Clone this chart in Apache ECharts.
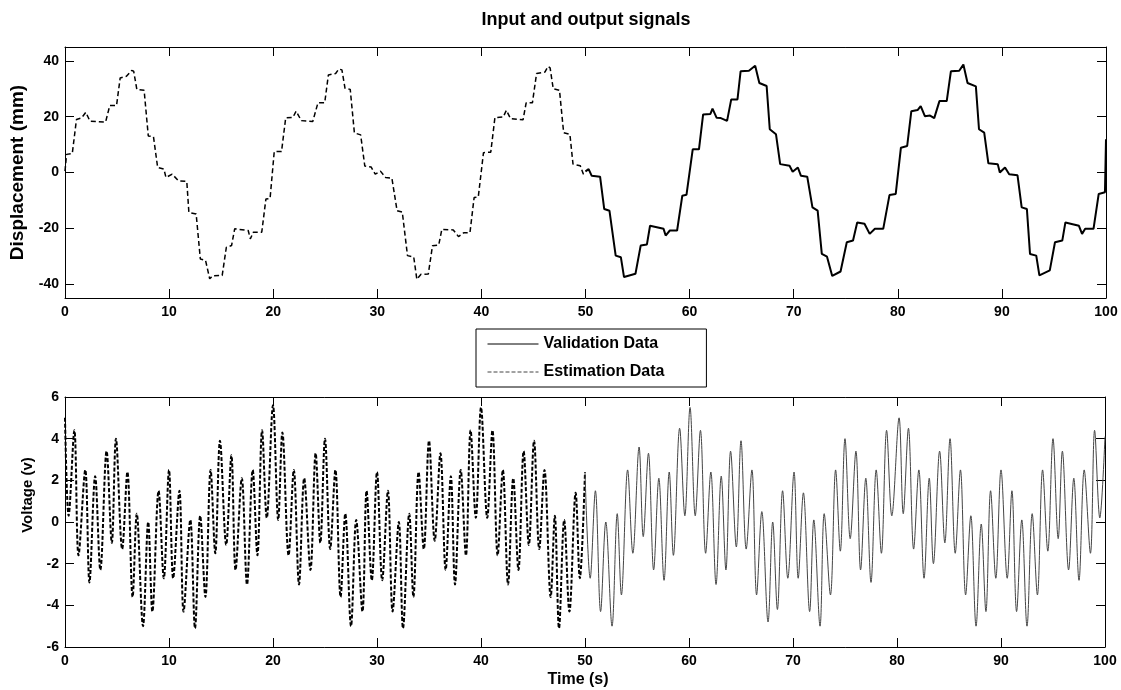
<!DOCTYPE html>
<html>
<head>
<meta charset="utf-8">
<script src="https://cdn.jsdelivr.net/npm/echarts@6/dist/echarts.min.js"></script>
<style>
html,body{margin:0;padding:0;background:#fff;}
#chart{width:1121px;height:690px;}
</style>
</head>
<body>
<div id="chart"></div>
<script>
// ---- Displacement (top panel) breakpoints, time in s, value in mm ----
const dispEstTime = [0.0,0.15,0.7,1.1,1.6,2.0,2.4,3.9,4.3,4.95,5.3,5.9,6.4,6.6,6.9,7.6,8.0,8.5,8.9,9.5,9.7,10.3,10.9,11.7,11.9,12.6,13.0,13.5,13.9,14.2,15.1,15.5,16.0,16.3,17.6,17.8,18.1,18.9,19.3,19.7,
  20.1,20.8,21.2,21.9,22.2,22.7,23.8,24.3,24.95,25.3,26.0,26.3,26.6,26.9,27.4,27.8,28.4,28.8,29.4,29.8,30.3,30.8,31.4,31.9,32.4,32.9,33.5,33.8,34.2,34.9,35.3,35.9,36.2,37.3,37.8,38.3,38.9,39.3,39.7,
  40.2,40.9,41.3,42.1,42.4,42.8,44.0,44.3,44.9,45.3,46.1,46.4,46.6,46.9,47.5,47.9,48.5,48.8,49.5,49.8,50.0];
const dispEstValue = [0.5,6.5,6.8,19,19.6,21.6,18.4,18.1,24,24,33.9,34.5,36.6,36.3,29.8,29.5,13.1,12.8,1.8,1.2,-1.8,-0.6,-3,-3.2,-14.3,-14.9,-31,-31.5,-38.1,-37,-36.9,-26.8,-26.2,-20.2,-20.8,-23.8,-21.4,-21.4,-9.5,-9.3,
  7.5,7.5,19.6,19.8,22,18.6,18.3,25,25,35,35.5,37.1,36.8,30.2,29.8,14.2,13.5,2.3,2,-0.6,0.5,-1.8,-2,-13.7,-14.2,-29.8,-30.3,-38.3,-36.5,-36.4,-26.3,-26,-20.4,-20.6,-23,-21.6,-21.6,-9,-8.8,
  7.1,7.3,19.7,19.9,22.3,19.3,18.9,25,25,35.5,36,38,37.5,30,29.5,14.3,13.7,3,2.4,-0.6,0.4];
const dispValTime = [50.0,50.3,50.6,51.4,51.8,52.3,52.9,53.4,53.7,54.8,55.3,55.9,56.2,57.5,57.7,58.1,58.8,59.3,59.7,
  60.3,60.9,61.3,62.0,62.2,62.6,63.0,63.6,64.0,64.6,64.9,65.7,66.3,66.7,67.4,67.7,68.3,68.7,69.6,69.9,70.4,70.7,71.3,71.8,72.3,72.7,73.2,73.7,74.5,75.1,75.7,76.1,76.8,77.3,77.8,78.6,79.2,79.8,
  80.3,80.9,81.3,81.9,82.2,82.6,83.1,83.5,84.0,84.7,85.1,85.9,86.3,86.7,87.5,87.8,88.3,88.7,89.6,89.8,90.3,90.7,91.5,91.9,92.4,92.7,93.3,93.6,94.6,95.1,95.8,96.1,97.4,97.7,98.0,98.8,99.3,99.9,100.0];
const dispValValue = [0.4,1.2,-1.2,-1.5,-13.1,-13.7,-29.8,-30.4,-37.5,-36.3,-26.2,-25.8,-19.1,-20.2,-22.6,-20.8,-20.8,-8.3,-8,
  8.3,8.3,20.8,21,22.9,19.6,19.5,18.5,26.2,26.2,36.3,36.5,38.3,32.1,31,15.5,13.7,3,2.4,0.3,1.8,-1.2,-1.5,-12.5,-13.7,-29.2,-30.2,-37.1,-35.5,-25,-24.4,-17.9,-18.4,-22,-20.2,-20.2,-8.1,-7.7,
  8.9,9.5,22,22.4,23.8,20.2,20.4,19.5,25.6,25.6,36.3,36.5,38.7,32.1,30.9,15.5,14.3,3.3,3,0,1.8,-0.6,-1,-12.5,-13.1,-29.2,-29.8,-36.9,-35.1,-25,-24.4,-17.9,-19.1,-22,-20.2,-20.2,-7.7,-7.1,11.9];

// ---- Voltage (bottom panel) peaks and troughs, time in s, value in V ----
const voltEstTime = [0.0,0.35,0.9,1.3,1.95,2.35,2.9,3.4,4.0,4.5,4.9,5.5,6.0,6.5,6.9,7.5,8.0,8.4,9.0,9.5,10.0,10.4,11.0,11.4,12.05,12.5,13.0,13.5,14.0,14.45,14.9,15.5,16.0,16.4,17.0,17.5,18.05,18.5,18.95,19.4,
  20.0,20.5,20.9,21.5,22.0,22.5,23.0,23.6,24.1,24.55,25.0,25.5,26.0,26.5,26.95,27.5,28.0,28.6,29.0,29.5,30.0,30.5,31.05,31.5,32.1,32.5,33.1,33.5,34.0,34.5,35.0,35.55,36.1,36.6,37.1,37.5,38.05,38.55,39.0,39.5,
  40.0,40.6,41.1,41.6,42.1,42.6,43.1,43.6,44.1,44.6,45.1,45.6,46.1,46.7,47.1,47.5,48.0,48.5,49.1,49.5,50.0];
const voltEstValue = [5.0,0.3,4.4,-1.6,2.5,-2.9,2.2,-2.3,3.4,-1.0,4.0,-1.3,2.4,-3.6,0.4,-5.0,0.0,-4.3,1.5,-2.7,2.5,-2.7,1.5,-4.3,0.1,-5.1,0.3,-3.6,2.5,-1.5,3.9,-1.1,3.2,-2.3,2.1,-3.0,2.5,-1.6,4.4,0.2,
  5.6,0.1,4.3,-1.6,2.5,-3.0,2.1,-2.3,3.3,-1.0,4.0,-1.3,2.5,-3.6,0.4,-5.0,0.1,-4.3,1.5,-2.8,2.4,-2.8,1.5,-4.3,0.0,-5.1,0.4,-3.6,2.4,-1.3,3.9,-0.9,3.3,-2.3,2.2,-3.0,2.5,-1.6,4.4,0.2,
  5.5,0.2,4.4,-1.6,2.5,-3.0,2.1,-2.3,3.4,-1.1,3.9,-1.3,2.5,-3.6,0.3,-5.1,0.1,-4.3,1.4,-2.7,2.4];
const voltValTime = [50.0,50.5,51.0,51.5,52.0,52.6,53.1,53.5,54.1,54.6,55.2,55.6,56.1,56.6,57.1,57.6,58.1,58.5,59.1,59.6,
  60.1,60.6,61.1,61.6,62.1,62.6,63.1,63.55,64.0,64.55,65.0,65.5,66.05,66.5,67.0,67.6,68.05,68.5,69.0,69.5,70.1,70.5,71.0,71.6,72.0,72.6,73.0,73.6,74.1,74.55,
  75.0,75.5,76.05,76.5,77.0,77.5,78.0,78.5,79.0,79.5,80.2,80.6,81.1,81.6,82.1,82.6,83.1,83.5,84.1,84.6,85.1,85.6,86.1,86.6,87.1,87.6,88.1,88.55,89.0,89.5,
  90.0,90.6,91.05,91.5,92.0,92.5,93.0,93.5,94.0,94.5,95.0,95.5,95.9,96.5,97.0,97.5,98.0,98.6,99.0,99.5,100.0];
const voltValValue = [2.4,-2.7,1.5,-4.3,0.0,-5.0,0.4,-3.5,2.5,-1.5,3.6,-0.7,3.3,-2.3,2.1,-2.8,2.4,-1.6,4.5,0.3,
  5.5,0.3,4.4,-1.5,2.4,-3.0,2.2,-2.3,3.4,-1.2,3.9,-1.3,2.5,-3.5,0.5,-4.8,0.0,-4.2,1.5,-2.7,2.4,-2.7,1.4,-4.3,0.1,-5.0,0.4,-3.5,2.5,-1.4,
  4.0,-0.8,3.4,-2.3,2.1,-2.9,2.5,-1.5,4.4,0.3,5.0,0.4,4.5,-1.3,2.5,-2.7,2.1,-2.0,3.4,-1.0,4.0,-1.5,2.5,-3.5,0.3,-5.0,-0.1,-4.3,1.5,-2.7,
  2.5,-2.7,1.5,-4.3,0.1,-5.0,0.4,-3.5,2.5,-1.4,4.0,-0.8,3.4,-2.3,2.1,-2.8,2.5,-1.5,4.4,0.2,4.1];

// ---- Tick labels ----
const timeTicks = [0,10,20,30,40,50,60,70,80,90,100];
const dispTicks = [-40,-20,0,20,40];
const voltTicks = [-6,-4,-2,0,2,4,6];

const pairs = (t, v) => t.map((x, i) => [x, v[i]]);

const FONT = '"Liberation Sans", Arial, Helvetica, sans-serif';
const labelStyle = {color:'#000', fontFamily:FONT, fontWeight:'bold', fontSize:14};
const axLine = {show:true, onZero:false, lineStyle:{color:'#000', width:1}};
const tickIn = {show:true, inside:true, length:9, lineStyle:{color:'#000', width:1}};

function xAx(grid, pos, showLabel) {
  return {
    type:'value', gridIndex:grid, position:pos, min:0, max:100, interval:10,
    axisLine:axLine, axisTick:tickIn, splitLine:{show:false},
    axisLabel:Object.assign({show:showLabel, margin:7}, labelStyle)
  };
}
function yAx(grid, pos, showLabel, min, max, ticks, name, nameSize, nameGap) {
  return {
    type:'value', gridIndex:grid, position:pos, min:min, max:max,
    axisLine:axLine, splitLine:{show:false},
    axisTick:Object.assign({customValues:ticks}, tickIn),
    axisLabel:Object.assign({show:showLabel, margin:6, customValues:ticks}, labelStyle),
    name: name || '', nameLocation:'middle', nameGap:nameGap || 30, nameRotate:90,
    nameTextStyle:{color:'#000', fontFamily:FONT, fontWeight:'bold', fontSize:nameSize || 16}
  };
}

const chart = echarts.init(document.getElementById('chart'), null, {renderer:'canvas'});
chart.setOption({
  animation:false,
  backgroundColor:'#fff',
  title:{
    text:'Input and output signals', left:581, top:6, textAlign:'center',
    textStyle:{color:'#000', fontFamily:FONT, fontWeight:'bold', fontSize:18}
  },
  legend:{
    orient:'vertical', left:476, top:329,
    padding:[7, 42, 7, 11], itemGap:12, itemWidth:51, itemHeight:14,
    backgroundColor:'#fff', borderColor:'#000', borderWidth:1,
    textStyle:{color:'#000', fontFamily:FONT, fontWeight:'bold', fontSize:16},
    data:[
      {name:'Validation Data', itemStyle:{opacity:0}, lineStyle:{color:'#000', width:1, type:'solid'}},
      {name:'Estimation Data', itemStyle:{opacity:0}, lineStyle:{color:'#444', width:1, type:[4,2]}}
    ]
  },
  graphic:[
    {type:'text', x:28, y:495, rotation:Math.PI/2, z:10,
     style:{text:'Voltage (v)', align:'center', verticalAlign:'middle', fill:'#000',
            font:'bold 15px "Liberation Sans", Arial, sans-serif'}},
    {type:'text', x:578, y:680, z:10,
     style:{text:'Time (s)', align:'center', verticalAlign:'middle', fill:'#000',
            font:'bold 16px "Liberation Sans", Arial, sans-serif'}}
  ],
  grid:[
    {left:65, top:47, width:1041, height:251},
    {left:65, top:397, width:1040, height:250}
  ],
  xAxis:[
    xAx(0, 'bottom', true),
    xAx(0, 'top', false),
    xAx(1, 'bottom', true),
    xAx(1, 'top', false)
  ],
  yAxis:[
    yAx(0, 'left', true, -45, 45, dispTicks, 'Displacement (mm)', 19, 38),
    yAx(0, 'right', false, -45, 45, dispTicks),
    yAx(1, 'left', true, -6, 6, voltTicks),
    yAx(1, 'right', false, -6, 6, voltTicks)
  ],
  series:[
    {name:'Estimation Data', type:'line', xAxisIndex:0, yAxisIndex:0, symbol:'none', showSymbol:false,
     data:pairs(dispEstTime, dispEstValue), lineStyle:{color:'#000', width:1.5, type:[5,3]}, z:3},
    {name:'Validation Data', type:'line', xAxisIndex:0, yAxisIndex:0, symbol:'none', showSymbol:false,
     data:pairs(dispValTime, dispValValue), lineStyle:{color:'#000', width:2}, z:3},
    {name:'Estimation Data', type:'line', xAxisIndex:2, yAxisIndex:2, symbol:'none', showSymbol:false, smooth:0.35,
     data:pairs(voltEstTime, voltEstValue), lineStyle:{color:'#000', width:2, type:[4,2]}, z:3},
    {name:'Validation Data', type:'line', xAxisIndex:2, yAxisIndex:2, symbol:'none', showSymbol:false, smooth:0.35,
     data:pairs(voltValTime, voltValValue), lineStyle:{color:'#444', width:1}, z:3}
  ]
});
</script>
</body>
</html>
